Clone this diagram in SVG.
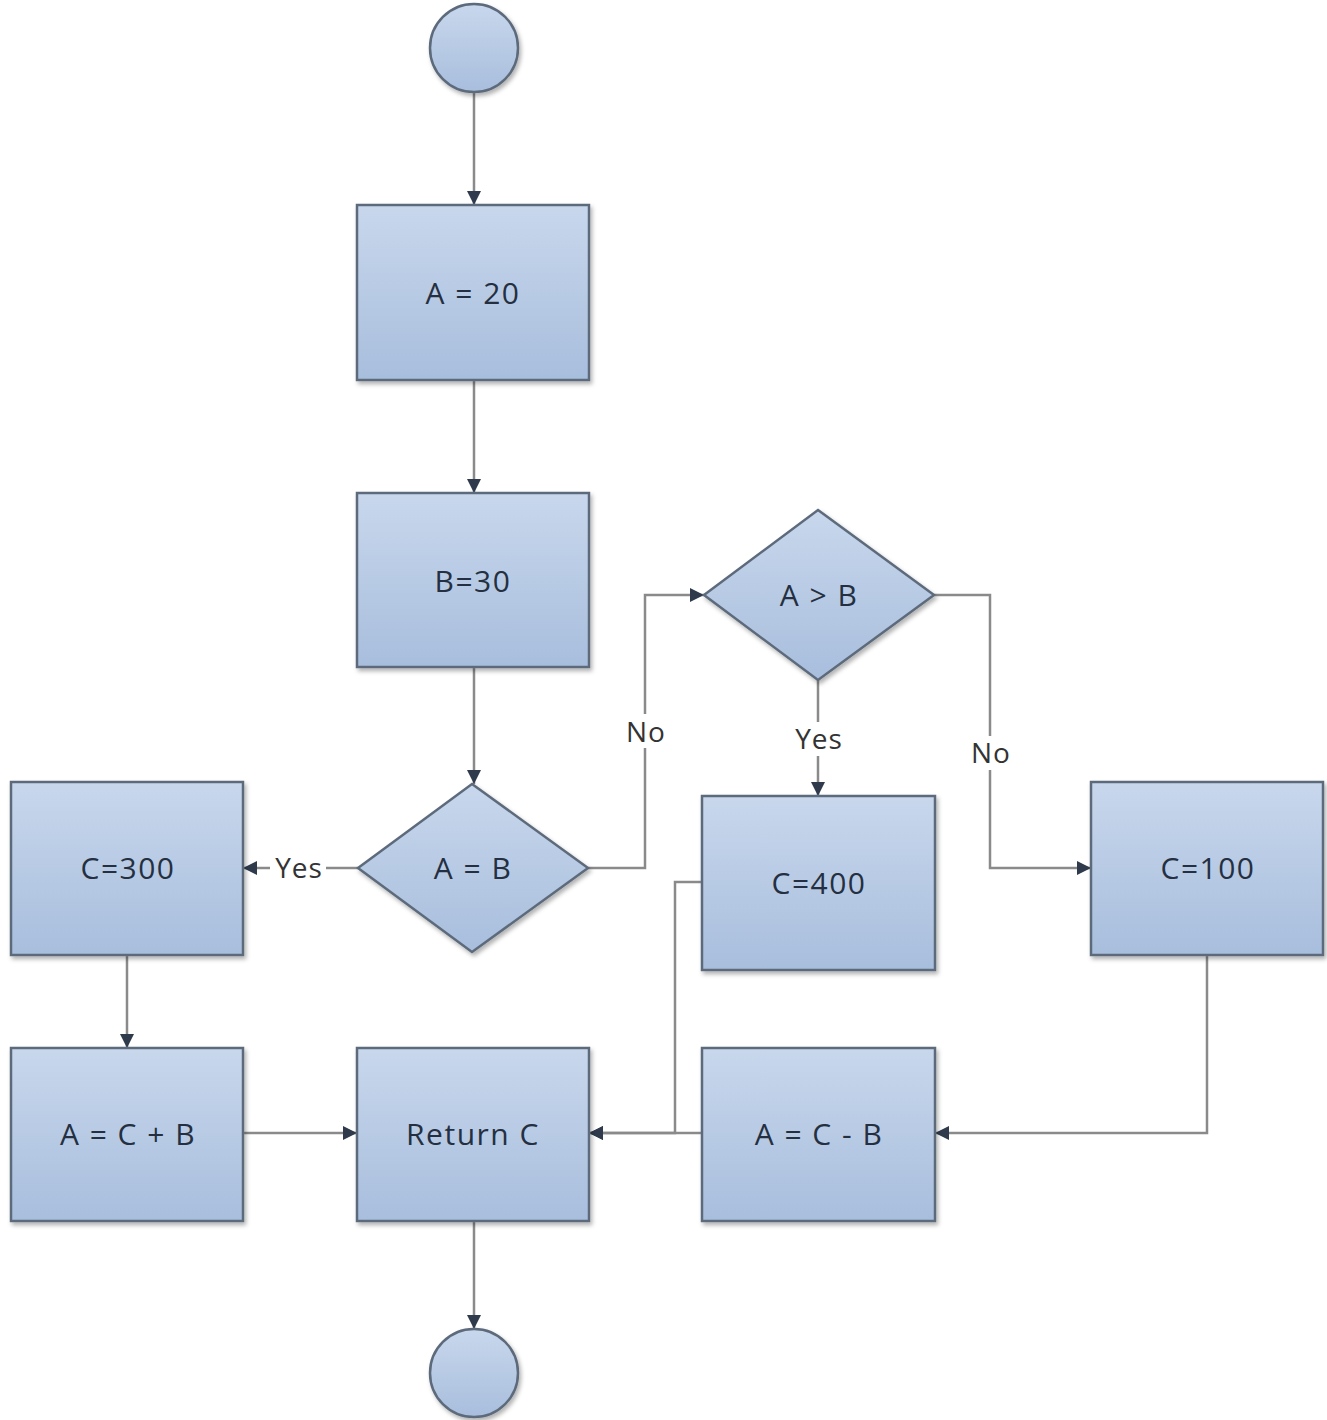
<svg xmlns="http://www.w3.org/2000/svg" width="1327" height="1420" viewBox="0 0 1327 1420">
<defs>
<linearGradient id="g" x1="0" y1="0" x2="0" y2="1">
<stop offset="0" stop-color="#c8d7ec"/>
<stop offset="1" stop-color="#a8bedd"/>
</linearGradient>
<filter id="sh" x="-10%" y="-10%" width="130%" height="130%">
<feDropShadow dx="2" dy="3" stdDeviation="2" flood-color="#000" flood-opacity="0.3"/>
</filter>
<marker id="ar" viewBox="0 0 10 10" refX="10" refY="5" markerWidth="14" markerHeight="14" markerUnits="userSpaceOnUse" orient="auto">
<path d="M0,0 L10,5 L0,10 z" fill="#2f3b4c"/>
</marker>
</defs>
<style>
.n{fill:url(#g);stroke:#5d6b7c;stroke-width:2.5;filter:url(#sh)}
.t{font-family:"Open Sans","Liberation Sans",sans-serif;font-size:30px;font-weight:500;letter-spacing:1.5px;fill:#243041;text-anchor:middle;dominant-baseline:central}
.c{fill:none;stroke:#8a8a8a;stroke-width:2.5}
.l{font-family:"Open Sans","Liberation Sans",sans-serif;font-size:28px;font-weight:500;letter-spacing:1px;fill:#333;text-anchor:middle;dominant-baseline:central}
.bg{fill:#fff}
</style>
<rect width="1327" height="1420" fill="#fff"/>
<g id="connectors">
<path class="c" d="M474,92 L474,205" marker-end="url(#ar)"/>
<path class="c" d="M474,380 L474,493" marker-end="url(#ar)"/>
<path class="c" d="M474,667 L474,784" marker-end="url(#ar)"/>
<path class="c" d="M358,868 L243,868" marker-end="url(#ar)"/>
<path class="c" d="M588,868 L645,868 L645,595 L704,595" marker-end="url(#ar)"/>
<path class="c" d="M818,680 L818,796" marker-end="url(#ar)"/>
<path class="c" d="M934,595 L990,595 L990,868 L1091,868" marker-end="url(#ar)"/>
<path class="c" d="M127,955 L127,1048" marker-end="url(#ar)"/>
<path class="c" d="M243,1133 L357,1133" marker-end="url(#ar)"/>
<path class="c" d="M702,882 L675,882 L675,1133 L589,1133" marker-end="url(#ar)"/>
<path class="c" d="M702,1133 L589,1133" marker-end="url(#ar)"/>
<path class="c" d="M1207,955 L1207,1133 L935,1133" marker-end="url(#ar)"/>
<path class="c" d="M474,1221 L474,1329" marker-end="url(#ar)"/>
<rect class="bg" x="270" y="852" width="56" height="32"/>
<text class="l" x="299" y="867">Yes</text>
<rect class="bg" x="621" y="714" width="48" height="34"/>
<text class="l" x="646" y="731">No</text>
<rect class="bg" x="789" y="722" width="58" height="34"/>
<text class="l" x="819" y="738">Yes</text>
<rect class="bg" x="966" y="736" width="48" height="34"/>
<text class="l" x="991" y="752">No</text>
</g>
<g id="start"><circle class="n" cx="474" cy="48" r="44"/></g>
<g id="a20"><rect class="n" x="357" y="205" width="232" height="175"/><text class="t" x="473" y="292">A = 20</text></g>
<g id="b30"><rect class="n" x="357" y="493" width="232" height="174"/><text class="t" x="473" y="580">B=30</text></g>
<g id="aeqb"><polygon class="n" points="472,784 588,868 472,952 358,868"/><text class="t" x="473" y="867">A = B</text></g>
<g id="agtb"><polygon class="n" points="818,510 934,595 818,680 704,595"/><text class="t" x="819" y="594">A &gt; B</text></g>
<g id="c300"><rect class="n" x="11" y="782" width="232" height="173"/><text class="t" x="128" y="867">C=300</text></g>
<g id="c400"><rect class="n" x="702" y="796" width="233" height="174"/><text class="t" x="819" y="882">C=400</text></g>
<g id="c100"><rect class="n" x="1091" y="782" width="232" height="173"/><text class="t" x="1208" y="867">C=100</text></g>
<g id="acb"><rect class="n" x="11" y="1048" width="232" height="173"/><text class="t" x="128" y="1133">A = C + B</text></g>
<g id="ret"><rect class="n" x="357" y="1048" width="232" height="173"/><text class="t" x="473" y="1133">Return C</text></g>
<g id="acmb"><rect class="n" x="702" y="1048" width="233" height="173"/><text class="t" x="819" y="1133">A = C - B</text></g>
<g id="end"><circle class="n" cx="474" cy="1373" r="44"/></g>
</svg>
